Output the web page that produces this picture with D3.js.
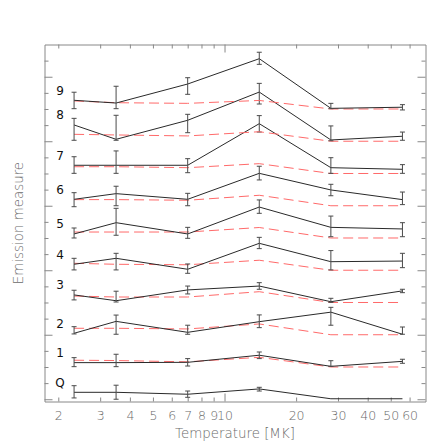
<!DOCTYPE html>
<html>
<head>
<meta charset="utf-8">
<script src="https://cdn.jsdelivr.net/npm/d3@7/dist/d3.min.js"></script>
<style>
  body { margin: 0; background: #fff; }
  svg text { font-family: "DejaVu Sans", "Liberation Sans", Arial, sans-serif; font-weight: 200; }
</style>
</head>
<body>
<svg width="447" height="447"></svg>
<script>
// temperature bins (MK)
var temps = [2.33, 3.5, 7, 14, 28, 56];

// one curve per interval, Q = quiet, stacked with an offset
var curveNames = ["Q", "1", "2", "3", "4", "5", "6", "7", "8", "9"];

// emission measure (relative to each curve's own baseline)
var emValues = [
  [0.43, 0.43, 0.31, 0.64, 0.03, 0.03],
  [0.27, 0.27, 0.29, 0.73, 0.04, 0.35],
  [0.09, 0.83, 0.15, 0.81, 1.40, 0.03],
  [0.47, 0.11, 0.78, 1.02, 0.05, 0.72],
  [0.37, 0.74, 0.06, 1.67, 0.53, 0.57],
  [0.25, 0.95, 0.25, 1.92, 0.66, 0.56],
  [0.40, 0.75, 0.40, 2.01, 0.98, 0.38],
  [0.51, 0.51, 0.51, 3.09, 0.36, 0.26],
  [1.01, 0.12, 1.30, 3.05, 0.08, 0.31],
  [0.54, 0.37, 1.55, 3.12, 0.04, 0.11]
];
// lower / upper end of the error bars
var emLow = [
  [0.08, 0.00, 0.12, 0.51, 0.03, 0.03],
  [0.02, 0.02, 0.06, 0.52, 0.04, 0.23],
  [0.05, 0.03, 0.03, 0.44, 0.59, 0.03],
  [0.16, 0.03, 0.53, 0.82, 0.01, 0.61],
  [0.02, 0.02, -0.19, 1.34, 0.02, 0.16],
  [0.00, 0.17, -0.02, 1.53, 0.08, 0.08],
  [-0.06, 0.00, 0.00, 1.60, 0.62, 0.07],
  [0.01, 0.01, 0.05, 2.57, 0.01, 0.01],
  [0.06, 0.06, 0.53, 2.31, 0.03, 0.06],
  [0.02, 0.02, 0.91, 2.77, 0.02, -0.06]
];
var emHigh = [
  [0.84, 0.87, 0.51, 0.74, 0.03, 0.03],
  [0.58, 0.79, 0.52, 0.93, 0.39, 0.48],
  [0.50, 1.22, 0.59, 1.23, 1.70, 0.48],
  [0.76, 0.70, 1.02, 1.23, 0.26, 0.82],
  [0.74, 1.05, 0.39, 2.04, 1.22, 1.05],
  [0.62, 1.84, 0.66, 2.36, 1.36, 0.95],
  [0.81, 1.21, 0.77, 2.45, 1.33, 0.85],
  [1.04, 1.40, 0.92, 3.59, 0.98, 0.55],
  [1.42, 1.61, 1.67, 3.59, 0.95, 0.57],
  [1.04, 1.41, 1.94, 3.52, 0.35, 0.27]
];
// red dashed model curve (none for Q)
var modelValues = [
  null,
  [0.42, 0.40, 0.32, 0.60, 0, 0],
  [0.40, 0.40, 0.36, 0.67, 0, 0],
  [0.40, 0.34, 0.34, 0.67, 0, 0],
  [0.43, 0.37, 0.34, 0.62, 0, 0],
  [0.37, 0.37, 0.37, 0.65, 0, 0],
  [0.38, 0.38, 0.34, 0.65, 0, 0],
  [0.42, 0.42, 0.36, 0.61, 0, 0],
  [0.43, 0.39, 0.33, 0.59, 0, 0],
  [0.50, 0.39, 0.35, 0.53, 0, 0]
];

var xTicks = [2, 3, 4, 5, 6, 7, 8, 9, 10, 20, 30, 40, 50, 60];
var xMajor = [10];
var yTicks = d3.range(0, 22);
var yMajor = [0, 4, 8, 12, 16, 20];
var offsetStep = 2;

var svg = d3.select("svg");
var plotL = 44.5, plotR = 425.5, plotT = 44.5, plotB = 401.5;

var x = d3.scaleLog().domain([1.75, 70]).range([plotL, plotR]);
var y = d3.scaleLinear().domain([-0.14, 22]).range([plotB, plotT]);

var axisColor = "#888";
var textColor = "#6a6a6a";

// frame + ticks (all pointing inward)
function styleAxis(g, majors, sign, horiz) {
  g.select(".domain").attr("stroke", axisColor);
  g.selectAll(".tick line").attr("stroke", axisColor)
    .attr(horiz ? "y2" : "x2", d => sign * (majors.indexOf(d) >= 0 ? 8 : 4));
  g.selectAll(".tick text").attr("fill", textColor).attr("font-size", 12.5)
    .attr("font-family", null);
}

var xAxisB = svg.append("g").attr("transform", "translate(0," + plotB + ")")
  .call(d3.axisBottom(x).tickValues(xTicks).tickFormat(d3.format("d")).tickSizeOuter(0).tickSizeInner(-4).tickPadding(10));
styleAxis(xAxisB, xMajor, -1, true);

var xAxisT = svg.append("g").attr("transform", "translate(0," + plotT + ")")
  .call(d3.axisTop(x).tickValues(xTicks).tickFormat("").tickSizeOuter(0).tickSizeInner(-4));
styleAxis(xAxisT, xMajor, 1, true);

var yAxisL = svg.append("g").attr("transform", "translate(" + plotL + ",0)")
  .call(d3.axisLeft(y).tickValues(yTicks).tickFormat("").tickSizeOuter(0).tickSizeInner(-4));
styleAxis(yAxisL, yMajor, 1, false);

var yAxisR = svg.append("g").attr("transform", "translate(" + plotR + ",0)")
  .call(d3.axisRight(y).tickValues(yTicks).tickFormat("").tickSizeOuter(0).tickSizeInner(-4));
styleAxis(yAxisR, yMajor, -1, false);

// axis titles
svg.append("text")
  .attr("x", (plotL + plotR) / 2).attr("y", 437.5)
  .attr("text-anchor", "middle").attr("fill", textColor).attr("font-size", 13.4)
  .text("Temperature [MK]");

svg.append("text")
  .attr("transform", "translate(22.5," + ((plotT + plotB) / 2) + ") rotate(-90)")
  .attr("text-anchor", "middle").attr("fill", textColor).attr("font-size", 13.4)
  .text("Emission measure");

var line = d3.line()
  .x(d => x(d.t))
  .y(d => y(d.v));

var plot = svg.append("g");

curveNames.forEach((name, i) => {
  var off = i * offsetStep;

  // model (red dashed)
  if (modelValues[i]) {
    plot.append("path")
      .attr("d", line(temps.map((t, j) => ({ t: t, v: modelValues[i][j] + off }))))
      .attr("fill", "none")
      .attr("stroke", "#ff6a6a")
      .attr("stroke-width", 1)
      .attr("stroke-dasharray", "10,5");
  }

  // observed
  plot.append("path")
    .attr("d", line(temps.map((t, j) => ({ t: t, v: emValues[i][j] + off }))))
    .attr("fill", "none")
    .attr("stroke", "#2a2a2a")
    .attr("stroke-width", 1);

  // error bars
  temps.forEach((t, j) => {
    var lo = emLow[i][j], hi = emHigh[i][j];
    if (hi - lo < 0.02) return;
    var cx = x(t);
    var g = plot.append("g").attr("stroke", "#4a4a4a").attr("stroke-width", 1);
    g.append("line").attr("x1", cx).attr("x2", cx).attr("y1", y(lo + off)).attr("y2", y(hi + off));
    g.append("line").attr("x1", cx - 2.5).attr("x2", cx + 2.5).attr("y1", y(lo + off)).attr("y2", y(lo + off));
    g.append("line").attr("x1", cx - 2.5).attr("x2", cx + 2.5).attr("y1", y(hi + off)).attr("y2", y(hi + off));
  });

  // curve label, just above the first point
  svg.append("text")
    .attr("x", 60).attr("y", y(emValues[i][0] + off + 0.6))
    .attr("dy", "0.35em")
    .attr("text-anchor", "middle")
    .attr("font-size", 12)
    .attr("font-weight", 400)
    .style("font-weight", 400)
    .attr("fill", "#111")
    .text(name);
});
</script>
</body>
</html>
